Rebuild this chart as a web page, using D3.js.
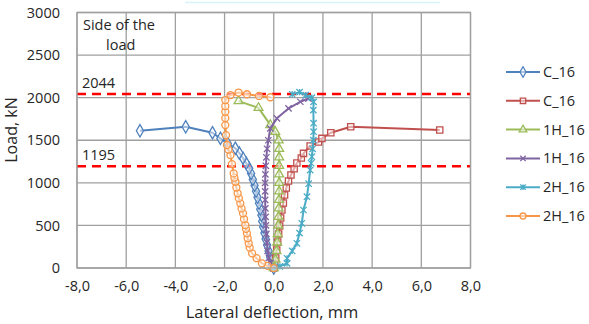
<!DOCTYPE html>
<html>
<head>
<meta charset="utf-8">
<script src="https://cdn.jsdelivr.net/npm/d3@7"></script>
<style>
  body { margin: 0; background: #fff; }
  svg text { font-family: "Open Sans", sans-serif; fill: #262626; }
</style>
</head>
<body>
<div class="chart"></div>
<script>
// x ticks and y ticks
const xTicks = [-8, -6, -4, -2, 0, 2, 4, 6, 8];
const yTicks = [0, 500, 1000, 1500, 2000, 2500, 3000];

// reference load levels
const refLoads = [2044, 1195];

// series names
const seriesNames = ["C_16", "C_16", "1H_16", "1H_16", "2H_16", "2H_16"];

// series values [deflection mm, load kN]
const c16Left = [[0,0],[-0.08,60],[-0.15,130],[-0.21,200],[-0.27,270],[-0.33,340],[-0.38,410],[-0.43,480],
  [-0.47,550],[-0.50,620],[-0.55,690],[-0.60,760],[-0.66,830],[-0.72,900],[-0.78,970],[-0.85,1040],
  [-0.92,1110],[-1.0,1170],[-1.12,1230],[-1.25,1290],[-1.40,1350],[-1.56,1405],[-1.87,1463],
  [-2.17,1522],[-2.49,1588],[-3.58,1658],[-5.44,1611]];
const c16Right = [[0,0],[0.04,47],[0.08,117],[0.12,211],[0.16,305],[0.20,400],[0.24,493],[0.28,587],
  [0.33,681],[0.39,763],[0.44,857],[0.51,939],[0.60,1021],[0.70,1092],[0.83,1166],[0.94,1232],
  [1.12,1291],[1.21,1346],[1.48,1432],[1.82,1479],[1.96,1522],[2.32,1588],[3.13,1658],[6.75,1620]];
const h1Green = [[0,0],[0.07,100],[0.11,200],[0.14,300],[0.16,400],[0.18,500],[0.19,600],[0.20,700],
  [0.21,800],[0.22,900],[0.22,1000],[0.22,1100],[0.22,1200],[0.22,1300],[0.22,1400],[0.20,1500],
  [0.06,1600],[-0.14,1680],[-0.62,1880],[-1.43,1960]];
const h1Purple = [[0,0],[-0.12,60],[-0.20,120],[-0.25,200],[-0.28,300],[-0.30,400],[-0.32,500],
  [-0.33,600],[-0.34,700],[-0.35,800],[-0.35,900],[-0.35,1000],[-0.34,1100],[-0.32,1200],[-0.30,1300],
  [-0.27,1400],[-0.22,1500],[-0.14,1640],[0.13,1757],[0.6,1874],[1.08,1952],[1.41,1990]];
const h2Cyan = [[0,0],[0.25,20],[0.54,55],[0.54,114],[0.75,200],[0.94,290],[1.05,410],[1.14,525],
  [1.21,681],[1.35,837],[1.42,990],[1.48,1150],[1.52,1230],[1.55,1307],[1.58,1400],[1.61,1502],
  [1.62,1600],[1.62,1700],[1.61,1854],[1.62,1950],[1.55,2000],[1.30,2030],[1.05,2065],[0.75,2040]];
const h2Orange = [[0,0],[-0.25,25],[-0.48,55],[-0.70,115],[-0.88,172],[-0.98,240],[-1.02,290],
  [-1.06,350],[-1.09,407],[-1.13,460],[-1.16,505],[-1.21,575],[-1.25,642],[-1.31,700],[-1.36,759],
  [-1.42,820],[-1.47,877],[-1.52,945],[-1.56,1013],[-1.60,1060],[-1.63,1111],[-1.70,1220],
  [-1.76,1326],[-1.84,1390],[-1.90,1444],[-1.94,1560],[-1.97,1678],[-1.97,1760],[-1.97,1835],
  [-1.97,1900],[-1.97,1972],[-1.76,2030],[-1.43,2060],[-1.09,2040],[-0.6,2020],[-0.14,2005]];

const allSeries = [c16Left, c16Right, h1Green, h1Purple, h2Cyan, h2Orange];
const colors = ["#4F81BD", "#C0504D", "#9BBB59", "#8064A2", "#4BACC6", "#F79646"];
const markers = ["diamond", "square", "triangle", "x", "star", "circle"];

const W = 589, H = 324;
const svg = d3.select(".chart").append("svg")
    .attr("width", W)
    .attr("height", H);

const x = d3.scaleLinear().domain([-8, 8]).range([77, 470.5]);
const y = d3.scaleLinear().domain([0, 3000]).range([268, 12.5]);

// faint line at the top of the original image
svg.append("line")
    .attr("x1", 185).attr("x2", 440).attr("y1", 2.5).attr("y2", 2.5)
    .attr("stroke", "#d6f3f8").attr("stroke-width", 1.5);

// gridlines
const grid = svg.append("g");
grid.selectAll(".vgrid").data(xTicks).enter().append("line")
    .attr("class", "vgrid")
    .attr("x1", d => x(d)).attr("x2", d => x(d))
    .attr("y1", y(3000)).attr("y2", y(0))
    .attr("stroke", "#A0A0A0").attr("stroke-width", 1.3);
grid.selectAll(".hgrid").data(yTicks).enter().append("line")
    .attr("class", "hgrid")
    .attr("x1", x(-8)).attr("x2", x(8))
    .attr("y1", d => y(d)).attr("y2", d => y(d))
    .attr("stroke", "#A0A0A0").attr("stroke-width", 1.3);

// axes (labels only)
const xAxis = svg.append("g")
    .attr("transform", `translate(0,${y(0)})`)
    .call(d3.axisBottom(x).tickValues(xTicks).tickSize(0).tickPadding(13)
        .tickFormat(d => d3.format(".1f")(d).replace(".", ",").replace("−", "-")));
xAxis.select(".domain").remove();
xAxis.selectAll("text").attr("font-size", 14.5).attr("font-family", "Open Sans").attr("fill", "#262626");

const yAxis = svg.append("g")
    .attr("transform", `translate(${x(-8)},0)`)
    .call(d3.axisLeft(y).tickValues(yTicks).tickSize(0).tickPadding(17).tickFormat(d3.format("d")));
yAxis.select(".domain").remove();
yAxis.selectAll("text").attr("font-size", 14.5).attr("font-family", "Open Sans").attr("fill", "#262626");

// axis titles
svg.append("text")
    .attr("x", 272).attr("y", 318)
    .attr("text-anchor", "middle")
    .attr("font-size", 16.5)
    .text("Lateral deflection, mm");
svg.append("text")
    .attr("transform", `translate(17,${y(1620)}) rotate(-90)`)
    .attr("text-anchor", "middle")
    .attr("font-size", 16)
    .text("Load, kN");

// reference lines
svg.selectAll(".ref").data(refLoads).enter().append("line")
    .attr("class", "ref")
    .attr("x1", x(-8)).attr("x2", x(8))
    .attr("y1", d => y(d)).attr("y2", d => y(d))
    .attr("stroke", "#FF0000").attr("stroke-width", 2.5)
    .attr("stroke-dasharray", "9,6");
svg.selectAll(".refLabel").data(refLoads).enter().append("text")
    .attr("class", "refLabel")
    .attr("x", x(-8) + 5).attr("y", d => y(d) - 6)
    .attr("font-size", 14.5)
    .text(d => d);

svg.append("text").attr("x", 83).attr("y", 30).attr("font-size", 14.5).text("Side of the");
svg.append("text").attr("x", 106).attr("y", 50).attr("font-size", 14.5).text("load");

// marker drawing
function marker(g, type, color, s) {
    if (type === "diamond") {
        g.append("path").attr("d", d3.symbol(d3.symbolDiamond, s * s * 0.9)())
            .attr("fill", "#fff").attr("fill-opacity", 0.5).attr("stroke", color).attr("stroke-width", 1.3);
    } else if (type === "square") {
        g.append("path").attr("d", d3.symbol(d3.symbolSquare, s * s * 0.8)())
            .attr("fill", "#fff").attr("fill-opacity", 0.5).attr("stroke", color).attr("stroke-width", 1.3);
    } else if (type === "triangle") {
        g.append("path").attr("d", d3.symbol(d3.symbolTriangle, s * s * 0.7)())
            .attr("fill", "#fff").attr("fill-opacity", 0.5).attr("stroke", color).attr("stroke-width", 1.3);
    } else if (type === "circle") {
        g.append("circle").attr("r", s * 0.5)
            .attr("fill", "#fff").attr("fill-opacity", 0.5).attr("stroke", color).attr("stroke-width", 1.3);
    } else {
        const r = s * 0.45;
        let p = `M${-r},${-r}L${r},${r}M${-r},${r}L${r},${-r}`;
        if (type === "star") p += `M0,${-r}L0,${r}`;
        g.append("path").attr("d", p).attr("stroke", color).attr("stroke-width", 1.3).attr("fill", "none");
    }
}

const line = d3.line().x(d => x(d[0])).y(d => y(d[1]));

allSeries.forEach((data, i) => {
    const g = svg.append("g");
    g.append("path")
        .datum(data)
        .attr("fill", "none")
        .attr("stroke", colors[i])
        .attr("stroke-width", 2)
        .attr("stroke-linejoin", "round")
        .attr("d", line);
    g.selectAll(".pt").data(data).enter().append("g")
        .attr("class", "pt")
        .attr("transform", d => `translate(${x(d[0])},${y(d[1])})`)
        .each(function() { marker(d3.select(this), markers[i], colors[i], 7); });
});

// plot frame
svg.append("rect")
    .attr("x", x(-8)).attr("y", y(3000))
    .attr("width", x(8) - x(-8)).attr("height", y(0) - y(3000))
    .attr("fill", "none").attr("stroke", "#A0A0A0").attr("stroke-width", 1.3);

// legend
const legend = svg.append("g");
seriesNames.forEach((name, i) => {
    const ly = 72 + i * 28.8;
    const lg = legend.append("g");
    lg.append("line")
        .attr("x1", 506).attr("x2", 540).attr("y1", ly).attr("y2", ly)
        .attr("stroke", colors[i]).attr("stroke-width", 2);
    const m = lg.append("g").attr("transform", `translate(523,${ly})`);
    marker(m, markers[i], colors[i], 6);
    lg.append("text")
        .attr("x", 543).attr("y", ly + 5)
        .attr("font-size", 14.5)
        .text(name);
});
</script>
</body>
</html>
